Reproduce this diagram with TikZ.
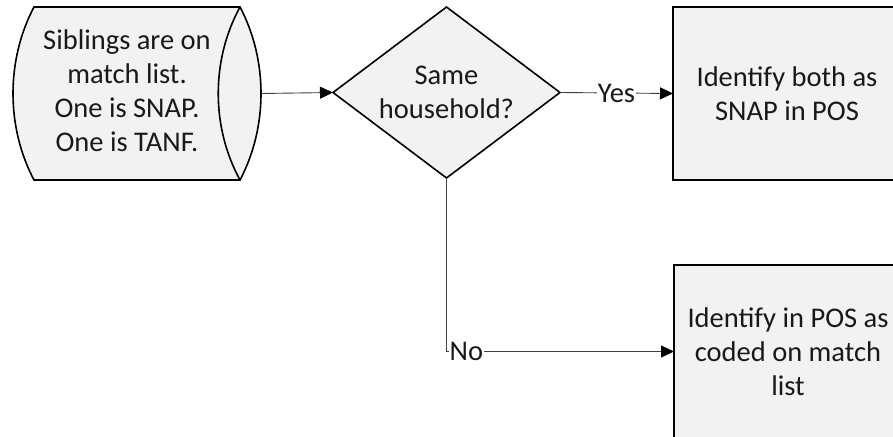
\documentclass[tikz,border=0pt]{standalone}
\usepackage{fontspec}
\setmainfont{Carlito}
\usetikzlibrary{shapes.geometric,arrows.meta}
\definecolor{shapefill}{HTML}{F2F2F2}
\definecolor{linecol}{HTML}{404040}
\begin{document}
\begin{tikzpicture}[x=1pt,y=-1pt,
  txt/.style={font=\fontsize{28.5}{34}\selectfont, align=center, text=black!90},
  outline/.style={draw=black, line width=1.6pt, fill=shapefill},
  procbox/.style={txt, outline, rectangle, minimum width=228pt, minimum height=173pt, inner sep=0pt, outer sep=0pt},
  decision/.style={txt, outline, diamond, aspect=1.327, minimum width=227pt, minimum height=171pt, inner sep=0pt, outer sep=0pt},
  conn/.style={draw=linecol, line width=0.9pt, -{Triangle[length=13pt,width=12pt,color=black]}},
  lbl/.style={font=\fontsize{28.5}{34}\selectfont, text=black!90, fill=white, inner xsep=1pt, inner ysep=0pt}
]
\clip (0,0) rectangle (893,436);
\fill[white] (0,0) rectangle (893,436);
% stored-data style source shape
\path[outline] (34,7) -- (240,7) .. controls (268,60) and (268,127) .. (240,180)
  -- (34,180) .. controls (6,127) and (6,60) .. cycle;
\draw[black, line width=1.6pt] (240,7) .. controls (211,60) and (211,127) .. (240,180);
\node[txt] (src) at (127,91) {Siblings are on\\match list.\\One is SNAP.\\One is TANF.};
\coordinate (srcR) at (261,93.5);
% decision
\node[decision] (dec) at (446.5,92.5) {Same\\household?};
% process boxes
\node[procbox] (yesbox) at (787,93.5) {Identify both as\\SNAP in POS};
\node[procbox] (nobox) at (788,351.5) {Identify in POS as\\coded on match\\list};
% connectors
\draw[conn] (srcR) -- (dec.west);
\draw[conn] (dec.east) -- node[lbl] {Yes} (yesbox.west);
\coordinate (corner) at (dec.south |- nobox.west);
\draw[conn] (dec.south) -- (corner) -- (nobox.west);
\node[lbl, anchor=west, xshift=2pt] at (corner) {No};
\end{tikzpicture}
\end{document}
